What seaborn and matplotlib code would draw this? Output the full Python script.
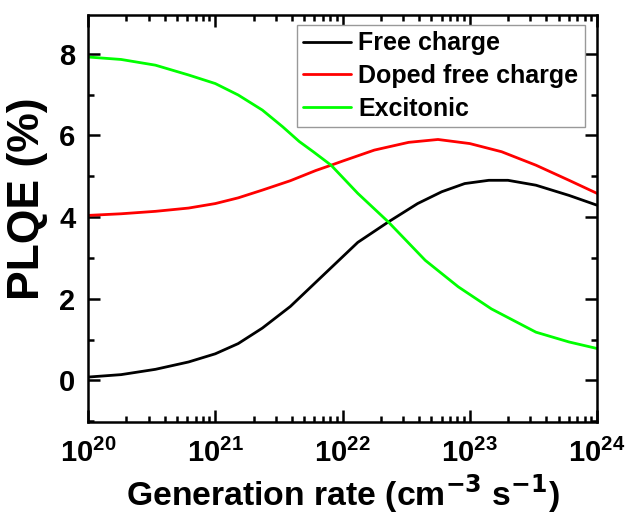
import numpy as np
import pandas as pd
import matplotlib.pyplot as plt
import seaborn as sns
from matplotlib.ticker import LogLocator, MultipleLocator

# log10 of generation rate (cm^-3 s^-1) and PLQE (%)
log_g_free = [20.0, 20.26, 20.53, 20.79, 21.0, 21.18, 21.37, 21.59, 21.86, 22.12, 22.36,
              22.59, 22.78, 22.96, 23.15, 23.3, 23.52, 23.78, 24.0]
plqe_free = [0.08, 0.14, 0.27, 0.45, 0.65, 0.90, 1.28, 1.81, 2.61, 3.38, 3.88,
             4.33, 4.62, 4.82, 4.90, 4.90, 4.78, 4.53, 4.29]

log_g_doped = [20.0, 20.26, 20.53, 20.79, 21.0, 21.18, 21.37, 21.59, 21.79, 21.91, 22.0,
               22.25, 22.52, 22.75, 23.0, 23.25, 23.52, 23.78, 24.0]
plqe_doped = [4.04, 4.08, 4.14, 4.22, 4.33, 4.47, 4.66, 4.89, 5.14, 5.27, 5.37,
              5.64, 5.83, 5.90, 5.80, 5.60, 5.27, 4.90, 4.58]

log_g_exc = [20.0, 20.26, 20.53, 20.79, 21.0, 21.18, 21.37, 21.53, 21.66, 21.77, 21.91,
             22.12, 22.36, 22.65, 22.91, 23.17, 23.52, 23.78, 24.0]
plqe_exc = [7.92, 7.86, 7.72, 7.48, 7.27, 6.99, 6.62, 6.21, 5.85, 5.60, 5.27,
            4.58, 3.88, 2.94, 2.29, 1.75, 1.18, 0.94, 0.78]

df = pd.concat([
    pd.DataFrame({"G": 10.0 ** np.array(log_g_free), "PLQE": plqe_free, "model": "Free charge"}),
    pd.DataFrame({"G": 10.0 ** np.array(log_g_doped), "PLQE": plqe_doped, "model": "Doped free charge"}),
    pd.DataFrame({"G": 10.0 ** np.array(log_g_exc), "PLQE": plqe_exc, "model": "Excitonic"}),
])

sns.set_style("ticks")
plt.rcParams['font.family'] = ['Liberation Sans', 'DejaVu Sans']
plt.rcParams['font.weight'] = 'bold'
plt.rcParams['mathtext.default'] = 'bf'
for k in ['text.color', 'axes.labelcolor', 'xtick.color', 'ytick.color', 'axes.edgecolor']:
    plt.rcParams[k] = 'black'

fig = plt.figure(figsize=(6.43, 5.16), dpi=100)
ax = fig.add_axes([0.1369, 0.1822, 0.7916, 0.7888])

sns.lineplot(data=df, x="G", y="PLQE", hue="model",
             palette={"Free charge": "black", "Doped free charge": "#ff0000", "Excitonic": "#00ff00"},
             linewidth=2.0, ax=ax)

ax.set_xscale("log")
ax.set_xlim(1e20, 1e24)
ax.set_ylim(-1.02, 8.95)
ax.xaxis.set_major_locator(LogLocator(base=10, numticks=10))
ax.xaxis.set_minor_locator(LogLocator(base=10, subs=np.arange(2, 10), numticks=50))
ax.yaxis.set_major_locator(MultipleLocator(2))
ax.yaxis.set_minor_locator(MultipleLocator(1))

ax.tick_params(which="both", direction="in", top=True, right=True, width=1.8)
ax.tick_params(which="major", length=8.5, labelsize=21)
ax.tick_params(axis="x", which="major", pad=12)
ax.tick_params(axis="y", which="major", pad=9)
ax.tick_params(which="minor", length=4.5)
for s in ax.spines.values():
    s.set_linewidth(1.8)

ax.set_xlabel("Generation rate (cm$^{-3}$ s$^{-1}$)", fontsize=24.3, fontweight="bold", labelpad=3)
ax.set_ylabel("PLQE (%)", fontsize=32, fontweight="bold")
ax.yaxis.set_label_coords(-0.078, 0.548)

leg = ax.legend(loc="upper right", bbox_to_anchor=(0.976, 0.975), borderaxespad=0,
                fontsize=18, frameon=True, fancybox=False, handlelength=1.9,
                borderpad=0.25, labelspacing=0.35, handletextpad=0.3)
leg.get_frame().set_edgecolor("#999999")
leg.get_frame().set_linewidth(1)
leg.get_frame().set_alpha(1)
for t in leg.get_texts():
    t.set_fontweight("bold")

fig.savefig("out.png", dpi=100)
